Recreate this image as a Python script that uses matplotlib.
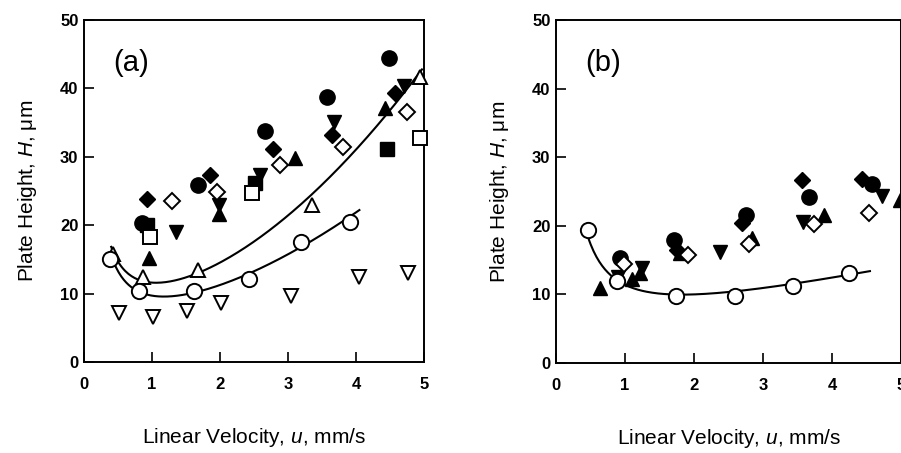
import numpy as np
import matplotlib
matplotlib.use("Agg")
import matplotlib.pyplot as plt

plt.rcParams['font.family'] = ['Liberation Sans', 'DejaVu Sans']
plt.rcParams['mathtext.fontset'] = 'custom'
plt.rcParams['mathtext.rm'] = 'Liberation Sans'
plt.rcParams['mathtext.it'] = 'Liberation Sans:italic'

# ---------------- Panel (a) data ----------------
a_fcirc_u = [0.85, 1.68, 2.66, 3.57, 4.48]
a_fcirc_h = [20.3, 25.9, 33.7, 38.8, 44.4]
a_fdiam_u = [0.92, 1.85, 2.78, 3.64, 4.57]
a_fdiam_h = [23.9, 27.3, 31.2, 33.2, 39.3]
a_odiam_u = [1.29, 1.95, 2.88, 3.81, 4.75]
a_odiam_h = [23.5, 24.9, 28.8, 31.5, 36.5]
a_fsq_u = [0.92, 2.51, 4.45]
a_fsq_h = [20.0, 26.1, 31.2]
a_osq_u = [0.97, 2.47, 4.94]
a_osq_h = [18.3, 24.7, 32.7]
a_fdown_u = [1.35, 1.98, 2.59, 3.67, 4.71]
a_fdown_h = [19.0, 23.0, 27.3, 35.1, 40.3]
a_fup_u = [0.96, 1.98, 3.10, 4.43]
a_fup_h = [15.2, 21.7, 29.8, 37.1]
a_oup_u = [0.42, 0.87, 1.68, 3.35, 4.94]
a_oup_h = [15.8, 12.5, 13.4, 23.0, 41.7]
a_ocirc_u = [0.38, 0.81, 1.62, 2.42, 3.19, 3.91]
a_ocirc_h = [15.0, 10.4, 10.4, 12.2, 17.6, 20.5]
a_odown_u = [0.52, 1.02, 1.52, 2.02, 3.04, 4.04, 4.77]
a_odown_h = [7.1, 6.6, 7.5, 8.6, 9.6, 12.4, 13.0]

# ---------------- Panel (b) data ----------------
b_ocirc_u = [0.47, 0.88, 1.74, 2.59, 3.44, 4.25]
b_ocirc_h = [19.4, 11.9, 9.8, 9.8, 11.2, 13.1]
b_fup_u = [0.64, 1.10, 1.22, 1.79, 2.84, 3.88, 4.99]
b_fup_h = [10.9, 12.3, 13.1, 16.0, 18.2, 21.6, 23.8]
b_fdown_u = [0.90, 1.24, 2.38, 3.58, 4.72]
b_fdown_h = [12.5, 13.8, 16.2, 20.6, 24.3]
b_fcirc_u = [0.93, 1.71, 2.76, 3.67, 4.58]
b_fcirc_h = [15.3, 17.9, 21.6, 24.2, 26.1]
b_odiam_u = [0.98, 1.91, 2.80, 3.74, 4.54]
b_odiam_h = [14.4, 15.7, 17.4, 20.3, 21.8]
b_fdiam_u = [1.76, 2.69, 3.56, 4.43]
b_fdiam_h = [16.5, 20.4, 26.7, 26.8]

# fitted curves: H = A + B/u + C*u + D*u^2  (coefficients and u-range)
a_tri_coef = [3.67, 4.89, 1.88, 1.165]
a_tri_range = (0.40, 4.97)
a_circ_coef = [1.53, 5.21, 2.36, 0.60]
a_circ_range = (0.40, 4.05)
b_circ_coef = [2.3, 7.0, 2.1, 0.0]
b_circ_range = (0.42, 4.55)

xticks = [0, 1, 2, 3, 4, 5]
yticks = [0, 10, 20, 30, 40, 50]


def curve(coef, rng):
    A, B, C, D = coef
    u = np.linspace(rng[0], rng[1], 200)
    return u, A + B / u + C * u + D * u ** 2


fig = plt.figure(figsize=(9.01, 4.53), dpi=100)
axA = fig.add_axes([84 / 901, (453 - 362) / 453, 340 / 901, 342 / 453])
axB = fig.add_axes([556 / 901, (453 - 363) / 453, 345 / 901, 343 / 453])

mew = 1.4


def filled(ax, u, h, m, s):
    ax.plot(u, h, linestyle='none', marker=m, markersize=s, color='black',
            markeredgecolor='black', zorder=3, clip_on=False)


def hollow(ax, u, h, m, s):
    ax.plot(u, h, linestyle='none', marker=m, markersize=s, markerfacecolor='white',
            markeredgecolor='black', markeredgewidth=mew, zorder=4, clip_on=False)


# Panel (a)
xs, ys = curve(a_tri_coef, a_tri_range)
axA.plot(xs, ys, color='black', lw=1.5, zorder=2)
xs, ys = curve(a_circ_coef, a_circ_range)
axA.plot(xs, ys, color='black', lw=1.5, zorder=2)
filled(axA, a_fcirc_u, a_fcirc_h, 'o', 11)
filled(axA, a_fdiam_u, a_fdiam_h, 'D', 8)
hollow(axA, a_odiam_u, a_odiam_h, 'D', 8)
filled(axA, a_fsq_u, a_fsq_h, 's', 9.5)
hollow(axA, a_osq_u, a_osq_h, 's', 9.5)
filled(axA, a_fdown_u, a_fdown_h, 'v', 10)
filled(axA, a_fup_u, a_fup_h, '^', 10)
hollow(axA, a_oup_u, a_oup_h, '^', 10)
hollow(axA, a_ocirc_u, a_ocirc_h, 'o', 11)
hollow(axA, a_odown_u, a_odown_h, 'v', 10)

# Panel (b)
xs, ys = curve(b_circ_coef, b_circ_range)
axB.plot(xs, ys, color='black', lw=1.5, zorder=2)
filled(axB, b_fup_u, b_fup_h, '^', 10)
filled(axB, b_fdown_u, b_fdown_h, 'v', 10)
filled(axB, b_fcirc_u, b_fcirc_h, 'o', 11)
filled(axB, b_fdiam_u, b_fdiam_h, 'D', 8)
hollow(axB, b_odiam_u, b_odiam_h, 'D', 8)
hollow(axB, b_ocirc_u, b_ocirc_h, 'o', 11)

for ax, tag in ((axA, '(a)'), (axB, '(b)')):
    ax.set_xlim(0, 5)
    ax.set_ylim(0, 50)
    ax.set_xticks(xticks)
    ax.set_yticks(yticks)
    ax.set_xticklabels([str(t) for t in xticks], fontsize=12, fontweight='bold')
    ax.set_yticklabels([str(t) for t in yticks], fontsize=12, fontweight='bold')
    ax.tick_params(axis='x', direction='in', length=7, width=1.2, pad=11)
    ax.tick_params(axis='y', direction='in', length=7, width=1.2, pad=4)
    for sp in ax.spines.values():
        sp.set_linewidth(1.4)
    ax.set_xlabel('Linear Velocity, $u$, mm/s', fontsize=15, labelpad=24)
    ax.set_ylabel('Plate Height, $H$, μm', fontsize=15, labelpad=15)
    ax.text(0.085, 0.875, tag, transform=ax.transAxes, fontsize=21,
            ha='left', va='center')

fig.savefig('out.png', dpi=100)
